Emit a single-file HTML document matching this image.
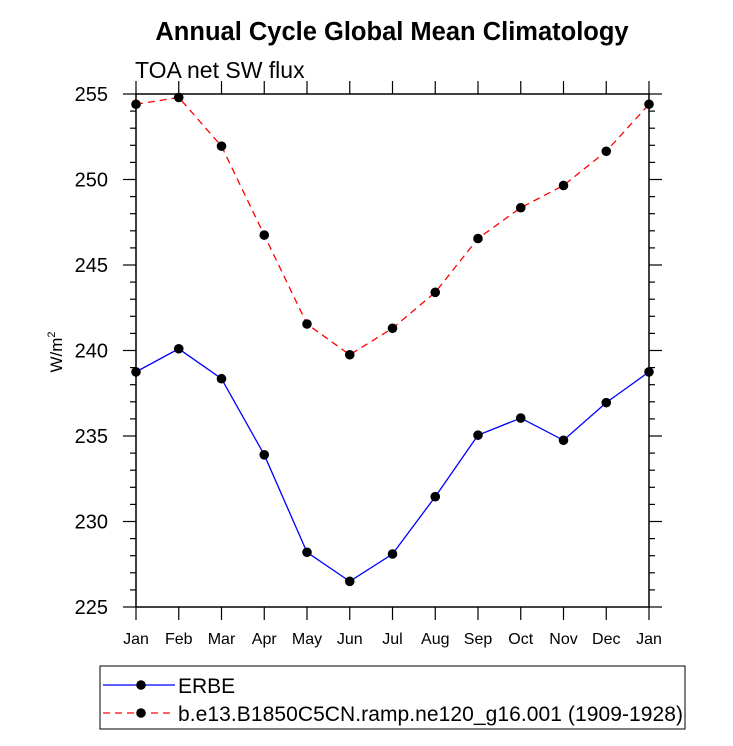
<!DOCTYPE html>
<html><head><meta charset="utf-8"><style>
body{margin:0;background:#fff;}
svg text{font-family:"Liberation Sans",sans-serif;}
</style></head><body>
<svg id="chart" width="733" height="741" xmlns="http://www.w3.org/2000/svg">
<text x="392" y="40" text-anchor="middle" font-size="25.5" font-weight="bold">Annual Cycle Global Mean Climatology</text>
<text x="135" y="78" font-size="23">TOA net SW flux</text>
<text transform="translate(62,352) rotate(-90)" text-anchor="middle" font-size="17">W/m<tspan font-size="11" dy="-7">2</tspan></text>
<g id="axes"></g>
<g id="series"></g>
<rect x="100" y="666" width="585" height="63" fill="#fff" stroke="#000" stroke-width="1"/>
<g>
<line x1="103" y1="685" x2="175" y2="685" stroke="#0000ff" stroke-width="1.2"/>
<circle cx="141" cy="685" r="4.8" fill="#000"/>
<text x="178" y="693" font-size="21">ERBE</text>
</g>
<g>
<line x1="103" y1="713" x2="175" y2="713" stroke="#ff0000" stroke-width="1.2" stroke-dasharray="7,5"/>
<circle cx="141" cy="713" r="4.8" fill="#000"/>
<text x="178" y="721" font-size="21" textLength="505">b.e13.B1850C5CN.ramp.ne120_g16.001 (1909-1928)</text>
</g>
</svg>
<script>
const months = ["Jan","Feb","Mar","Apr","May","Jun","Jul","Aug","Sep","Oct","Nov","Dec","Jan"];
const erbe = [238.75,240.1,238.35,233.9,228.2,226.5,228.1,231.45,235.05,236.05,234.75,236.95,238.75];
const model = [254.4,254.8,251.95,246.75,241.55,239.75,241.3,243.4,246.55,248.35,249.65,251.65,254.4];
const yTicks = [225,230,235,240,245,250,255];
const L=136,R=649,T=94,B=607,yMin=225,yMax=255;
const NS="http://www.w3.org/2000/svg";
function xs(i){return L+(R-L)*i/(months.length-1);}
function ys(v){return B-(B-T)*(v-yMin)/(yMax-yMin);}
function mk(tag,attrs,parent){const e=document.createElementNS(NS,tag);for(const k in attrs)e.setAttribute(k,attrs[k]);parent.appendChild(e);return e;}
const axes=document.getElementById('axes');
const frame=mk('rect',{x:L,y:T,width:R-L,height:B-T,fill:'none',stroke:'#000','stroke-width':1.5},axes);


for(let v=yMin;v<=yMax;v++){
  const major=(v%5===0);const len=major?13:6;const y=ys(v);
  const t1=mk('line',{x1:L-len,y1:y,x2:L,y2:y,stroke:'#000','stroke-width':1.2},axes);
  
  
  const t2=mk('line',{x1:R,y1:y,x2:R+len,y2:y,stroke:'#000','stroke-width':1.2},axes);
  
  
}
yTicks.forEach(v=>{
  const t=mk('text',{x:L-28,y:ys(v)+7,'text-anchor':'end','font-size':20},axes);t.textContent=v;
  
  
});
months.forEach((m,i)=>{
  const x=xs(i);
  const a=mk('line',{x1:x,y1:B,x2:x,y2:B+13,stroke:'#000','stroke-width':1.2},axes);
  
  
  const b=mk('line',{x1:x,y1:T-13,x2:x,y2:T,stroke:'#000','stroke-width':1.2},axes);
  
  
  const t=mk('text',{x:x,y:B+37,'text-anchor':'middle','font-size':16},axes);t.textContent=m;
  
  
});
const ser=document.getElementById('series');
function draw(vals,color,dash,name){
  const pts=vals.map((v,i)=>xs(i)+','+ys(v)).join(' ');
  const pl=mk('polyline',{points:pts,fill:'none',stroke:color,'stroke-width':1.3,'stroke-dasharray':dash},ser);
  
  
  vals.forEach((v,i)=>{
    const c=mk('circle',{cx:xs(i),cy:ys(v),r:4.8,fill:'#000'},ser);
    
    
  });
}
draw(erbe,'#0000ff','none','erbe');
draw(model,'#ff0000','7,5','model');
</script>
</body></html>
